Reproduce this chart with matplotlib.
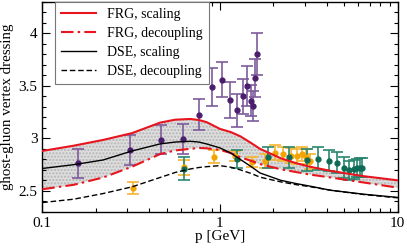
import matplotlib
matplotlib.use("Agg")
import matplotlib.pyplot as plt
from matplotlib.ticker import MultipleLocator, FixedLocator, FixedFormatter, LogLocator, NullFormatter

plt.rcParams['font.family'] = ['Liberation Serif', 'DejaVu Serif']

# curves
p_curve = [0.1, 0.15, 0.22, 0.32, 0.46, 0.56, 0.68, 0.76, 0.84, 1.0, 1.15, 1.3, 1.5, 1.68, 2.2, 2.7, 3.2, 4.2, 6.4, 10.0]
frg_scaling = [2.88, 2.93, 2.985, 3.05, 3.15, 3.178, 3.185, 3.175, 3.155, 3.09, 3.06, 3.02, 2.955, 2.90, 2.81, 2.762, 2.73, 2.69, 2.64, 2.60]
frg_decoupling = [2.515, 2.557, 2.627, 2.73, 2.85, 2.885, 2.90, 2.908, 2.905, 2.89, 2.86, 2.82, 2.785, 2.755, 2.705, 2.678, 2.655, 2.627, 2.58, 2.53]
dse_scaling = [2.713, 2.749, 2.794, 2.88, 2.947, 2.965, 2.972, 2.965, 2.947, 2.909, 2.86, 2.80, 2.73, 2.67, 2.60, 2.568, 2.545, 2.505, 2.468, 2.437]
dse_decoupling = [2.388, 2.42, 2.474, 2.538, 2.627, 2.675, 2.708, 2.722, 2.73, 2.74, 2.725, 2.70, 2.665, 2.63, 2.585, 2.558, 2.54, 2.505, 2.465, 2.433]

# lattice data
p_purple = [0.158, 0.313, 0.466, 0.617, 0.762, 0.897, 1.02, 1.138, 1.24, 1.34, 1.42, 1.49, 1.54, 1.57, 1.61]
v_purple = [2.761, 2.89, 2.988, 2.995, 3.227, 3.486, 3.56, 3.368, 3.266, 3.40, 3.499, 3.36, 3.31, 3.579, 3.80]
e_purple = [0.135, 0.14, 0.14, 0.145, 0.15, 0.18, 0.17, 0.17, 0.16, 0.17, 0.19, 0.15, 0.145, 0.18, 0.2]

p_orange = [0.323, 0.625, 0.93, 1.22, 1.51, 1.79, 2.04, 2.27, 2.5, 2.70, 2.89, 3.05, 3.21]
v_orange = [2.526, 2.723, 2.825, 2.83, 2.775, 2.787, 2.865, 2.85, 2.835, 2.83, 2.85, 2.825, 2.78]
e_orange = [0.06, 0.07, 0.06, 0.05, 0.045, 0.065, 0.07, 0.07, 0.07, 0.07, 0.07, 0.07, 0.07]

p_teal = [0.625, 1.25, 1.87, 2.45, 3.07, 3.57, 4.09, 4.54, 4.96, 5.34, 5.68, 5.9, 6.1, 6.3]
v_teal = [2.71, 2.80, 2.82, 2.82, 2.79, 2.805, 2.787, 2.767, 2.72, 2.695, 2.707, 2.717, 2.722, 2.72]
e_teal = [0.11, 0.085, 0.10, 0.10, 0.105, 0.11, 0.10, 0.10, 0.10, 0.09, 0.09, 0.09, 0.09, 0.09]

red = '#e8141e'

fig = plt.figure(figsize=(4.07, 2.48), dpi=100)
ax = fig.add_axes([0.104, 0.146, 0.873, 0.846])

ax.fill_between(p_curve, frg_decoupling, frg_scaling, facecolor='#dddddd',
                edgecolor='#b5b5b5', hatch='.....', linewidth=0, zorder=1)

ax.errorbar(p_purple, v_purple, yerr=e_purple, fmt='o', ms=3.5, color='#4b1d6e',
            ecolor='#7d5b9c', elinewidth=1.2, capsize=4, capthick=1.2, zorder=3)
ax.errorbar(p_orange, v_orange, yerr=e_orange, fmt='o', ms=3.5, color='#f4a400',
            ecolor='#f5b530', elinewidth=1.2, capsize=4, capthick=1.2, zorder=3)
ax.errorbar(p_teal, v_teal, yerr=e_teal, fmt='o', ms=3.5, color='#0d6b55',
            ecolor='#2a8670', elinewidth=1.2, capsize=4, capthick=1.2, zorder=3)

ax.plot(p_curve, frg_scaling, color=red, lw=1.5, label='FRG, scaling', zorder=4)
ax.plot(p_curve, frg_decoupling, color=red, lw=1.5, dashes=(6, 2, 1.2, 2),
        label='FRG, decoupling', zorder=4)
ax.plot(p_curve, dse_scaling, color='black', lw=1.0, label='DSE, scaling', zorder=4)
ax.plot(p_curve, dse_decoupling, color='black', lw=1.0, dashes=(4, 2),
        label='DSE, decoupling', zorder=4)

ax.set_xscale('log')
ax.set_xlim(0.1, 10)
ax.set_ylim(2.3, 4.3)
ax.xaxis.set_major_locator(FixedLocator([0.1, 1, 10]))
ax.xaxis.set_major_formatter(FixedFormatter(['0.1', '1', '10']))
ax.xaxis.set_minor_locator(LogLocator(base=10, subs=range(2, 10)))
ax.xaxis.set_minor_formatter(NullFormatter())
ax.yaxis.set_major_locator(FixedLocator([2.5, 3, 3.5, 4]))
ax.yaxis.set_major_formatter(FixedFormatter(['2.5', '3', '3.5', '4']))
ax.yaxis.set_minor_locator(MultipleLocator(0.1))

ax.tick_params(which='both', direction='in', top=True, right=True, labelsize=11, width=0.8)
ax.tick_params(axis='x', pad=4)
ax.tick_params(which='major', length=6)
ax.tick_params(which='minor', length=3)
for s in ax.spines.values():
    s.set_linewidth(1.0)

ax.set_xlabel('p [GeV]', fontsize=11, labelpad=0)
ax.set_ylabel('ghost-gluon vertex dressing', fontsize=10.8, labelpad=3)

leg = ax.legend(loc='upper left', bbox_to_anchor=(0.036, 1.0), fontsize=10,
                frameon=True, fancybox=False, edgecolor='#777777', framealpha=1,
                handlelength=2.5, handletextpad=0.8, labelspacing=0.42,
                borderpad=0.45, borderaxespad=0.0)
leg.get_frame().set_linewidth(0.8)

fig.savefig('out.png', dpi=100)
